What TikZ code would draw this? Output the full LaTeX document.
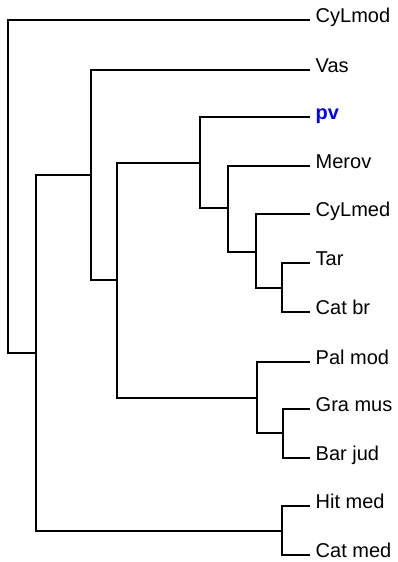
\documentclass[tikz,border=0pt]{standalone}
\usepackage{fontspec}
\setmainfont{Liberation Sans}
\usepackage{tikz}

\begin{document}
\begin{tikzpicture}[
        x=1pt, y=-1pt,
        font=\fontsize{20}{24}\selectfont,
        leaf/.style={anchor=west, inner xsep=5.5pt, inner ysep=0pt, text height=1.2ex, text depth=0.4ex},
        branch/.style={line width=1.3pt}
    ]
    \useasboundingbox (0,0) rectangle (397,562);

    % Leaves
    \node[leaf] (cylmod) at (310,20)  {CyLmod};
    \node[leaf] (vas)    at (310,70)  {Vas};
    \node[leaf, text=blue, font=\fontsize{20}{24}\selectfont\bfseries] (pv) at (310,117) {pv};
    \node[leaf] (merov)  at (310,166) {Merov};
    \node[leaf] (cylmed) at (310,214) {CyLmed};
    \node[leaf] (tar)    at (310,263) {Tar};
    \node[leaf] (catbr)  at (310,312) {Cat br};
    \node[leaf] (palmod) at (310,362) {Pal mod};
    \node[leaf] (gramus) at (310,409) {Gra mus};
    \node[leaf] (barjud) at (310,458) {Bar jud};
    \node[leaf] (hitmed) at (310,506) {Hit med};
    \node[leaf] (catmed) at (310,555) {Cat med};

    % Inner nodes of the tree
    \coordinate (tarcat)  at (282,288);
    \coordinate (cylgrp)  at (256,252);
    \coordinate (mergrp)  at (228,208);
    \coordinate (pvgrp)   at (200,163);
    \coordinate (gragrp)  at (283,433);
    \coordinate (palgrp)  at (257,398);
    \coordinate (midgrp)  at (117,280);
    \coordinate (vasgrp)  at (91,175);
    \coordinate (hitgrp)  at (282,531);
    \coordinate (lowgrp)  at (36,353);
    \coordinate (root)    at (8,186);

    % Branches
    \draw[branch] (tar.west) -| (tarcat) |- (catbr.west);
    \draw[branch] (cylmed.west) -| (cylgrp) |- (tarcat);
    \draw[branch] (merov.west) -| (mergrp) |- (cylgrp);
    \draw[branch] (pv.west) -| (pvgrp) |- (mergrp);

    \draw[branch] (gramus.west) -| (gragrp) |- (barjud.west);
    \draw[branch] (palmod.west) -| (palgrp) |- (gragrp);

    \draw[branch] (pvgrp) -| (midgrp) |- (palgrp);
    \draw[branch] (vas.west) -| (vasgrp) |- (midgrp);

    \draw[branch] (hitmed.west) -| (hitgrp) |- (catmed.west);
    \draw[branch] (vasgrp) -| (lowgrp) |- (hitgrp);

    \draw[branch] (cylmod.west) -| (root) |- (lowgrp);
\end{tikzpicture}
\end{document}
